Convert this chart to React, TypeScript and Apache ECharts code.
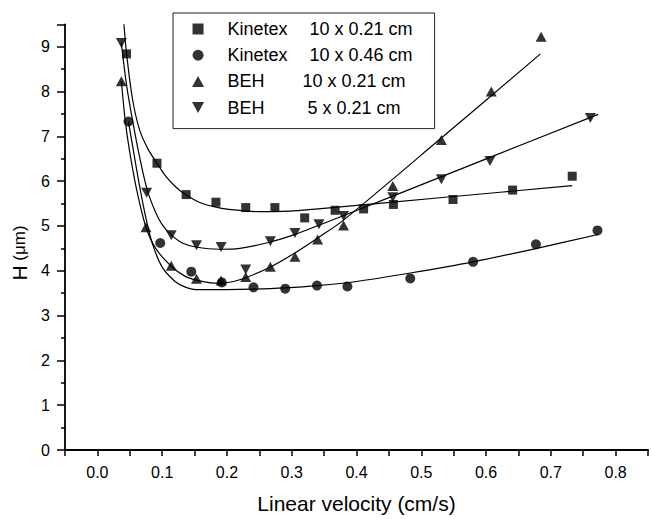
import React, { useEffect, useRef } from 'react';
import * as echarts from 'echarts';

// ---- Data ----
// Kinetex 10 x 0.21 cm (squares)
const K21_X = [0.045, 0.092, 0.137, 0.183, 0.229, 0.274, 0.320, 0.367, 0.411, 0.457, 0.549, 0.641, 0.733];
const K21_Y = [8.84, 6.40, 5.70, 5.53, 5.41, 5.41, 5.18, 5.35, 5.38, 5.48, 5.59, 5.80, 6.11];
// Kinetex 10 x 0.46 cm (circles)
const K46_X = [0.048, 0.097, 0.145, 0.192, 0.241, 0.290, 0.339, 0.386, 0.483, 0.580, 0.677, 0.772];
const K46_Y = [7.33, 4.62, 3.98, 3.74, 3.63, 3.60, 3.67, 3.65, 3.83, 4.20, 4.59, 4.90];
// BEH 10 x 0.21 cm (up triangles)
const B10_X = [0.037, 0.075, 0.114, 0.153, 0.191, 0.229, 0.267, 0.305, 0.340, 0.380, 0.456, 0.531, 0.608, 0.685];
const B10_Y = [8.23, 4.97, 4.11, 3.82, 3.78, 3.86, 4.09, 4.31, 4.70, 5.01, 5.89, 6.92, 8.00, 9.22];
// BEH 5 x 0.21 cm (down triangles)
const B5_X = [0.037, 0.076, 0.114, 0.153, 0.191, 0.229, 0.267, 0.305, 0.342, 0.380, 0.456, 0.531, 0.606, 0.761];
const B5_Y = [9.08, 5.74, 4.79, 4.57, 4.53, 4.03, 4.66, 4.84, 5.04, 5.22, 5.64, 6.04, 6.45, 7.41];

// Fitted curves
const K21_FIT_X = [0.041, 0.045, 0.054, 0.065, 0.078, 0.092, 0.106, 0.121, 0.136, 0.157, 0.180, 0.203, 0.250, 0.295, 0.341, 0.537, 0.733];
const K21_FIT_Y = [9.50, 8.85, 7.85, 7.15, 6.72, 6.40, 6.10, 5.87, 5.70, 5.53, 5.43, 5.37, 5.32, 5.33, 5.38, 5.64, 5.90];
const K46_FIT_X = [0.048, 0.055, 0.065, 0.075, 0.085, 0.100, 0.120, 0.135, 0.152, 0.200, 0.240, 0.290, 0.340, 0.400, 0.483, 0.580, 0.675, 0.773];
const K46_FIT_Y = [7.33, 6.73, 5.90, 5.17, 4.60, 4.08, 3.76, 3.64, 3.58, 3.58, 3.59, 3.62, 3.67, 3.76, 3.95, 4.20, 4.49, 4.81];
const B10_FIT_X = [0.037, 0.043, 0.049, 0.060, 0.075, 0.090, 0.114, 0.135, 0.153, 0.175, 0.190, 0.210, 0.230, 0.264, 0.303, 0.341, 0.380, 0.530, 0.684];
const B10_FIT_Y = [8.23, 7.35, 6.73, 5.85, 4.97, 4.50, 4.10, 3.88, 3.79, 3.73, 3.72, 3.76, 3.85, 4.06, 4.38, 4.74, 5.13, 6.95, 8.84];
const B5_FIT_X = [0.037, 0.045, 0.055, 0.065, 0.077, 0.090, 0.100, 0.114, 0.131, 0.152, 0.188, 0.220, 0.264, 0.303, 0.341, 0.457, 0.606, 0.773];
const B5_FIT_Y = [9.08, 8.15, 7.30, 6.55, 5.80, 5.30, 5.03, 4.80, 4.62, 4.53, 4.48, 4.50, 4.63, 4.80, 5.01, 5.67, 6.53, 7.49];

const LEGEND_LEAD = ['Kinetex', 'Kinetex', 'BEH', 'BEH'];
const LEGEND_SIZE = ['10 x 0.21 cm', '10 x 0.46 cm', '10 x 0.21 cm', '5 x 0.21 cm'];
const X_AXIS_NAME = 'Linear velocity (cm/s)';
const Y_AXIS_LEAD = 'H';
const Y_AXIS_UNIT = '(μm)';

const FONT = '"Liberation Sans", Arial, Helvetica, sans-serif';

const zip = (xs: number[], ys: number[]) => xs.map((x, i) => [x, ys[i]]);

export default function App() {
  const ref = useRef<HTMLDivElement>(null);

  useEffect(() => {
    if (!ref.current) return;
    const chart = echarts.init(ref.current, undefined, { renderer: 'svg' });
    const names = LEGEND_LEAD.map((l, i) => `${l} ${LEGEND_SIZE[i]}`);
    const leadStyle = (w: number) => ({ width: w, fontSize: 18, fontFamily: FONT, color: '#000', lineHeight: 20 });
    const icons = [
      'path://M0,0H10V10H0Z',
      'path://M5,0A5,5,0,1,1,5,10A5,5,0,1,1,5,0Z',
      'path://M5.5,0L11,10L0,10Z',
      'path://M0,0L11,0L5.5,10Z',
    ];
    const lineSeries = (xs: number[], ys: number[]) => ({
      type: 'line',
      data: zip(xs, ys),
      showSymbol: false,
      symbol: 'none',
      smooth: 0.3,
      lineStyle: { color: '#000', width: 1.2 },
      silent: true,
      z: 1,
    });
    const lineColor = { color: '#000', width: 1.8 };
    const tickColor = { color: '#000', width: 1.5 };

    chart.setOption({
      animation: false,
      backgroundColor: '#fff',
      grid: { left: 65, right: 0, top: 24.3, bottom: 63.3 },
      xAxis: {
        type: 'value',
        min: -0.05,
        max: 0.85,
        interval: 0.05,
        name: X_AXIS_NAME,
        nameLocation: 'middle',
        nameGap: 43,
        nameTextStyle: { fontSize: 21, color: '#000', fontFamily: FONT },
        axisLine: { show: true, onZero: false, lineStyle: lineColor },
        axisTick: { show: true, length: 6, lineStyle: tickColor },
        axisLabel: {
          fontSize: 16,
          color: '#000',
          fontFamily: FONT,
          margin: 14,
          formatter: (v: number) => {
            const k = Math.round(v * 100);
            return k % 10 === 0 && k >= 0 ? (k / 100).toFixed(1) : '';
          },
        },
        splitLine: { show: false },
      },
      yAxis: {
        type: 'value',
        min: 0,
        max: 9.5,
        interval: 1,
        axisLine: { show: true, onZero: false, lineStyle: lineColor },
        axisTick: { show: true, length: 8, lineStyle: tickColor },
        minorTick: { show: true, splitNumber: 2, length: 4, lineStyle: tickColor },
        axisLabel: { fontSize: 16, color: '#000', fontFamily: FONT, margin: 15, showMaxLabel: false },
        splitLine: { show: false },
        minorSplitLine: { show: false },
      },
      legend: {
        orient: 'vertical',
        left: 173,
        top: 13,
        padding: [7, 22, 12, 19],
        itemGap: 8.2,
        itemWidth: 49,
        itemHeight: 11,
        borderColor: '#222',
        borderWidth: 1,
        backgroundColor: '#fff',
        selectedMode: false,
        data: names.map((n, i) => ({ name: n, icon: icons[i] })),
        formatter: (name: string) => {
          const i = names.indexOf(name);
          return `{a${i}|${LEGEND_LEAD[i]}}{b|${LEGEND_SIZE[i]}}`;
        },
        textStyle: {
          fontFamily: FONT,
          fontSize: 18,
          color: '#000',
          rich: {
            a0: leadStyle(82),
            a1: leadStyle(82),
            a2: leadStyle(75),
            a3: leadStyle(80),
            b: { fontSize: 18, fontFamily: FONT, color: '#000', lineHeight: 20 },
          },
        },
      },
      graphic: [
        {
          type: 'text',
          x: 19,
          y: 253,
          rotation: Math.PI / 2,
          style: {
            text: `{h|${Y_AXIS_LEAD}}{u| ${Y_AXIS_UNIT}}`,
            align: 'center',
            verticalAlign: 'middle',
            rich: {
              h: { fontSize: 21, fontFamily: FONT, fill: '#000', lineHeight: 24, verticalAlign: 'middle' },
              u: { fontSize: 17, fontFamily: FONT, fill: '#000', lineHeight: 24, verticalAlign: 'middle' },
            },
          },
        },
      ],
      series: [
        lineSeries(K21_FIT_X, K21_FIT_Y),
        lineSeries(K46_FIT_X, K46_FIT_Y),
        lineSeries(B10_FIT_X, B10_FIT_Y),
        lineSeries(B5_FIT_X, B5_FIT_Y),
        { type: 'scatter', name: names[0], data: zip(K21_X, K21_Y), symbol: 'rect', symbolSize: 9, itemStyle: { color: '#000' }, z: 3 },
        { type: 'scatter', name: names[1], data: zip(K46_X, K46_Y), symbol: 'circle', symbolSize: 10, itemStyle: { color: '#000' }, z: 3 },
        { type: 'scatter', name: names[2], data: zip(B10_X, B10_Y), symbol: 'triangle', symbolSize: [11, 10], itemStyle: { color: '#000' }, z: 3 },
        { type: 'scatter', name: names[3], data: zip(B5_X, B5_Y), symbol: 'triangle', symbolRotate: 180, symbolSize: [11, 10], itemStyle: { color: '#000' }, z: 3 },
      ],
    });
    return () => chart.dispose();
  }, []);

  return <div ref={ref} style={{ position: 'absolute', left: 0, top: 0, width: 651, height: 519 }} />;
}
